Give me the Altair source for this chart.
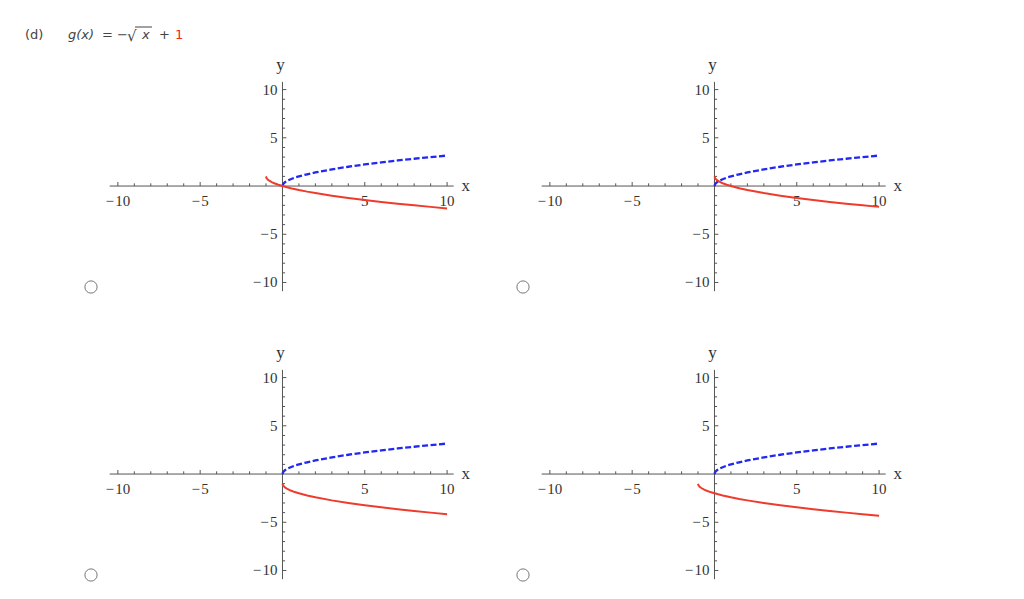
import altair as alt
import pandas as pd

# ---- data ----
blue_x = [0, 0.05, 0.15, 0.3, 0.5, 0.75, 1, 1.5, 2, 3, 4, 5, 6, 7, 8, 9, 10]
blue_y = [0, 0.22, 0.39, 0.55, 0.71, 0.87, 1.0, 1.22, 1.41, 1.73, 2.0, 2.24, 2.45, 2.65, 2.83, 3.0, 3.16]

redA_x = [-1, -0.97, -0.9, -0.8, -0.65, -0.5, -0.25, 0, 0.5, 1, 1.5, 2, 3, 4, 5, 6, 7, 8, 9, 10]
redA_y = [1.0, 0.83, 0.68, 0.55, 0.41, 0.29, 0.13, 0.0, -0.22, -0.41, -0.58, -0.73, -1.0, -1.24, -1.45, -1.65, -1.83, -2.0, -2.16, -2.32]

redB_x = [0, 0.05, 0.15, 0.3, 0.5, 0.75, 1, 1.5, 2, 3, 4, 5, 6, 7, 8, 9, 10]
redB_y = [1.0, 0.78, 0.61, 0.45, 0.29, 0.13, 0.0, -0.22, -0.41, -0.73, -1.0, -1.24, -1.45, -1.65, -1.83, -2.0, -2.16]

redC_x = [0, 0.05, 0.15, 0.3, 0.5, 0.75, 1, 1.5, 2, 3, 4, 5, 6, 7, 8, 9, 10]
redC_y = [-1.0, -1.22, -1.39, -1.55, -1.71, -1.87, -2.0, -2.22, -2.41, -2.73, -3.0, -3.24, -3.45, -3.65, -3.83, -4.0, -4.16]

redD_x = [-1, -0.97, -0.9, -0.8, -0.65, -0.5, -0.25, 0, 0.5, 1, 1.5, 2, 3, 4, 5, 6, 7, 8, 9, 10]
redD_y = [-1.0, -1.17, -1.32, -1.45, -1.59, -1.71, -1.87, -2.0, -2.22, -2.41, -2.58, -2.73, -3.0, -3.24, -3.45, -3.65, -3.83, -4.0, -4.16, -4.32]

x_ticks = [-10, -9, -8, -7, -6, -5, -4, -3, -2, -1, 1, 2, 3, 4, 5, 6, 7, 8, 9, 10]
y_ticks = [-10, -9, -8, -7, -6, -5, -4, -3, -2, -1, 1, 2, 3, 4, 5, 6, 7, 8, 9, 10]
x_label_vals = [-10, -5, 5, 10]
x_label_txt = ["\u2212\u200a10", "\u2212\u200a5", "5", "10"]
y_label_vals = [10, 5, -5, -10]
y_label_txt = ["10", "5", "\u2212\u200a5", "\u2212\u200a10"]

BLUE = "#2228f0"
RED = "#ef3b2c"
AX = "#555555"
SERIF = "Liberation Serif"

W, H = 400, 245
xs = alt.Scale(domain=[-12.3, 12.0], nice=False, zero=False)
ys = alt.Scale(domain=[-11.4, 14.0], nice=False, zero=False)


def X(f="x"):
    return alt.X(f"{f}:Q", scale=xs, axis=None)


def Y(f="y"):
    return alt.Y(f"{f}:Q", scale=ys, axis=None)


def panel(rx, ry, with_title=False):
    axis_x = alt.Chart(pd.DataFrame({"a": [-10.5], "b": [10.4], "y": [0]})).mark_rule(
        color=AX, strokeWidth=1).encode(x=X("a"), x2="b:Q", y=Y())
    axis_y = alt.Chart(pd.DataFrame({"a": [-10.9], "b": [10.8], "x": [0]})).mark_rule(
        color=AX, strokeWidth=1).encode(y=Y("a"), y2="b:Q", x=X())

    xt = alt.Chart(pd.DataFrame({"x": x_ticks})).transform_calculate(
        y0="0", y1="abs(datum.x) % 5 == 0 ? 0.42 : 0.28"
    ).mark_rule(color=AX, strokeWidth=1).encode(x=X(), y=Y("y0"), y2="y1:Q")
    yt = alt.Chart(pd.DataFrame({"y": y_ticks})).transform_calculate(
        x0="0", x1="abs(datum.y) % 5 == 0 ? 0.24 : 0.16"
    ).mark_rule(color=AX, strokeWidth=1).encode(y=Y(), x=X("x0"), x2="x1:Q")

    xl = alt.Chart(pd.DataFrame({"x": x_label_vals, "t": x_label_txt})).transform_calculate(
        y="0").mark_text(font=SERIF, fontSize=15, color="#333333", dy=15, baseline="middle"
    ).encode(x=X(), y=Y(), text="t:N")
    yl = alt.Chart(pd.DataFrame({"y": y_label_vals, "t": y_label_txt})).transform_calculate(
        x="0").mark_text(font=SERIF, fontSize=15, color="#333333", dx=-5, align="right",
                         baseline="middle").encode(x=X(), y=Y(), text="t:N")

    xname = alt.Chart(pd.DataFrame({"x": [10.4], "y": [0], "t": ["x"]})).mark_text(
        font=SERIF, fontSize=17, color="#333333", dx=12, dy=0, baseline="middle"
    ).encode(x=X(), y=Y(), text="t:N")
    yname = alt.Chart(pd.DataFrame({"x": [0], "y": [10.8], "t": ["y"]})).mark_text(
        font=SERIF, fontSize=17, color="#333333", dx=-2, dy=-17, baseline="middle"
    ).encode(x=X(), y=Y(), text="t:N")

    blue = alt.Chart(pd.DataFrame({"x": blue_x, "y": blue_y})).mark_line(
        color=BLUE, strokeWidth=2.3, strokeDash=[6, 2.5]).encode(x=X(), y=Y())
    red = alt.Chart(pd.DataFrame({"x": rx, "y": ry})).mark_line(
        color=RED, strokeWidth=2).encode(x=X(), y=Y())

    radio = alt.Chart(pd.DataFrame({"k": [0]})).mark_point(
        shape="circle", size=150, filled=False, fill="white", stroke="#777777",
        strokeWidth=1, opacity=1).encode(x=alt.value(11), y=alt.value(236))

    layers = [axis_x, axis_y, xt, yt, xl, yl, xname, yname, blue, red, radio]

    if with_title:
        tfont = "DejaVu Sans"
        base = alt.Chart(pd.DataFrame({"k": [0]}))
        ty = -16
        layers += [
            base.mark_text(text="(d)", font=tfont, fontSize=13, color="#444444",
                           align="left", baseline="middle").encode(x=alt.value(-55), y=alt.value(ty)),
            base.mark_text(text="g(x)", font=tfont, fontSize=13, fontStyle="italic",
                           color="#444444", align="left", baseline="middle").encode(
                x=alt.value(-12), y=alt.value(ty)),
            base.mark_text(text="=", font=tfont, fontSize=13, color="#444444",
                           align="left", baseline="middle").encode(x=alt.value(22), y=alt.value(ty)),
            base.mark_text(text="\u2212", font=tfont, fontSize=13, color="#444444",
                           align="left", baseline="middle").encode(x=alt.value(37), y=alt.value(ty)),
            base.mark_text(text="\u221a", font=tfont, fontSize=15, color="#444444",
                           align="left", baseline="middle").encode(x=alt.value(47), y=alt.value(ty + 1)),
            base.mark_rule(color="#444444", strokeWidth=1).encode(
                x=alt.value(55), x2=alt.value(72), y=alt.value(-24)),
            base.mark_text(text="x", font=tfont, fontSize=13, fontStyle="italic",
                           color="#444444", align="left", baseline="middle").encode(
                x=alt.value(62), y=alt.value(ty)),
            base.mark_text(text="+", font=tfont, fontSize=13, color="#444444",
                           align="left", baseline="middle").encode(x=alt.value(79), y=alt.value(ty)),
            base.mark_text(text="1", font=tfont, fontSize=13, color="#ee2a1a",
                           align="left", baseline="middle").encode(x=alt.value(95), y=alt.value(ty)),
        ]

    return alt.layer(*layers).properties(width=W, height=H)


p1 = panel(redA_x, redA_y, with_title=True)
p2 = panel(redB_x, redB_y)
p3 = panel(redC_x, redC_y)
p4 = panel(redD_x, redD_y)

chart = alt.vconcat(
    alt.hconcat(p1, p2, spacing=32),
    alt.hconcat(p3, p4, spacing=32),
    spacing=43,
).properties(
    padding={"left": 17, "top": 18, "right": 5, "bottom": 0},
    background="white",
).configure_view(strokeWidth=0, stroke="transparent")

chart.save("out.html", embed_options={"renderer": "svg", "actions": False})
